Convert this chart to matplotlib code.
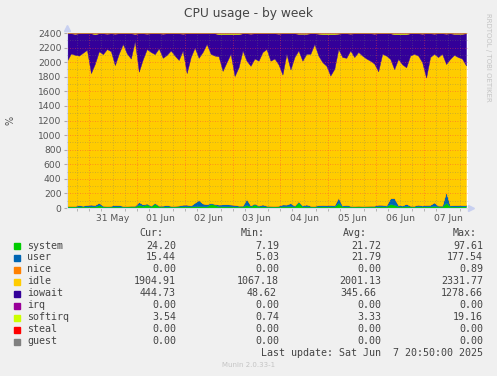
import datetime as dt

import matplotlib
matplotlib.use("Agg")
import matplotlib.pyplot as plt
import matplotlib.dates as mdates
from matplotlib.patches import Rectangle

# samples every 2 hours, from 30 May 13:00 to 07 Jun 21:00
start = dt.datetime(2025, 5, 30, 13, 0)
step_hours = 2

system = [20, 21, 20, 20, 21, 20, 22, 21, 40, 21, 20, 20, 21, 20, 19, 20, 21, 20, 45, 30,
          50, 21, 60, 22, 20, 21, 20, 20, 21, 22, 22, 21, 24, 25, 23, 22, 55, 45, 22, 23,
          22, 22, 21, 20, 21, 40, 21, 50, 21, 22, 20, 20, 20, 21, 22, 22, 24, 21, 80, 21,
          22, 20, 20, 21, 22, 21, 22, 21, 70, 21, 22, 20, 20, 21, 20, 20, 20, 21, 22, 22,
          21, 55, 45, 22, 21, 24, 21, 20, 22, 21, 22, 22, 28, 21, 21, 75, 22, 21, 21, 22, 24]
user = [12, 10, 11, 20, 12, 24, 26, 22, 34, 12, 11, 12, 22, 20, 12, 11, 12, 13, 40, 20,
        14, 12, 13, 12, 14, 20, 12, 12, 14, 25, 26, 14, 50, 85, 40, 32, 14, 13, 26, 28,
        30, 27, 24, 14, 13, 85, 16, 14, 13, 28, 13, 12, 11, 12, 28, 26, 45, 13, 15, 14,
        28, 12, 11, 18, 22, 20, 22, 18, 75, 14, 22, 12, 11, 12, 11, 12, 13, 12, 25, 24,
        14, 80, 95, 20, 14, 35, 12, 12, 25, 14, 22, 22, 50, 14, 13, 150, 16, 20, 21, 20, 15]
nice = [0] * 101
idle = [1988, 2089, 2069, 2050, 2097, 2126, 1802, 1937, 2076, 2077, 2149, 2118, 1917, 2080,
        2219, 2089, 2017, 2257, 1785, 1990, 2116, 2107, 2037, 2156, 2026, 2059, 2128, 2058,
        1995, 2113, 1802, 2035, 2126, 1950, 2077, 2196, 2046, 2032, 2032, 1829, 1948, 2066,
        1765, 1896, 2126, 1895, 1913, 1986, 1986, 2090, 2147, 1988, 2019, 1937, 1780, 2067,
        1831, 2036, 2065, 1985, 2065, 2083, 2219, 2051, 1956, 1909, 1772, 1871, 2035, 2035,
        2016, 2128, 2039, 2107, 2059, 2018, 1987, 1947, 1828, 2069, 2055, 1910, 1765, 2003,
        1935, 1871, 2057, 2083, 2043, 1965, 1746, 2026, 2037, 2035, 2081, 1750, 2007, 2059,
        2028, 2008, 1916]
iowait = [377, 277, 290, 307, 267, 227, 547, 405, 247, 287, 212, 247, 432, 277, 147, 277,
          347, 100, 527, 357, 212, 257, 287, 207, 332, 297, 237, 307, 367, 232, 547, 327,
          197, 337, 257, 147, 282, 307, 305, 505, 385, 270, 575, 455, 237, 377, 442, 347,
          377, 257, 217, 377, 347, 422, 567, 282, 497, 327, 230, 370, 275, 282, 147, 302,
          385, 435, 569, 475, 212, 327, 337, 232, 327, 257, 307, 347, 377, 412, 522, 282,
          307, 352, 480, 340, 415, 455, 307, 282, 307, 392, 607, 327, 277, 327, 282, 417,
          352, 290, 320, 340, 442]
irq = [0] * 101
softirq = [3, 3, 10, 3, 3, 3, 3, 15, 3, 3, 8, 3, 8, 3, 3, 3, 3, 10, 3, 3,
           8, 3, 3, 3, 8, 3, 3, 3, 3, 8, 3, 3, 3, 3, 3, 3, 3, 3, 15, 15,
           15, 15, 15, 15, 3, 3, 8, 3, 3, 3, 3, 3, 3, 8, 3, 3, 3, 3, 10, 10,
           10, 3, 3, 8, 15, 15, 15, 15, 8, 3, 3, 8, 3, 3, 3, 3, 3, 8, 3, 3,
           3, 3, 15, 15, 15, 15, 3, 3, 3, 8, 3, 3, 8, 3, 3, 8, 3, 10, 10, 10, 3]
steal = [0] * 101
guest = [0] * 101

names = ["system", "user", "nice", "idle", "iowait", "irq", "softirq", "steal", "guest"]
colors = ["#00cc00", "#0066b3", "#ff8000", "#ffcc00", "#330099",
          "#990099", "#ccff00", "#ff0000", "#808080"]
cur = ["24.20", "15.44", "0.00", "1904.91", "444.73", "0.00", "3.54", "0.00", "0.00"]
mins = ["7.19", "5.03", "0.00", "1067.18", "48.62", "0.00", "0.74", "0.00", "0.00"]
avgs = ["21.72", "21.79", "0.00", "2001.13", "345.66", "0.00", "3.33", "0.00", "0.00"]
maxs = ["97.61", "177.54", "0.89", "2331.77", "1278.66", "0.00", "19.16", "0.00", "0.00"]

W, H = 497, 376
times = [start + dt.timedelta(hours=step_hours * i) for i in range(len(idle))]
end = times[-1]

fig = plt.figure(figsize=(W / 100, H / 100), dpi=100)
fig.patch.set_facecolor("#f0f0f0")


def fx(x):
    return x / W


def fy(y):
    return 1 - y / H


ax = fig.add_axes([fx(67), fy(208), 401 / W, 175 / H])
ax.set_facecolor("white")
ax.stackplot(times, system, user, nice, idle, iowait, irq, softirq, steal, guest,
             colors=colors, linewidth=0.3, edgecolor="face")
ax.set_ylim(0, 2400)
ax.set_xlim(start, end + dt.timedelta(hours=1))

# grid drawn above the areas like rrdtool does
minor_c = (0.45, 0.45, 0.45, 0.45)
major_c = (1.0, 0.25, 0.25, 0.6)
for v in range(100, 2500, 100):
    ax.axhline(v, color=major_c if v % 200 == 0 else minor_c, lw=0.6,
               ls=(0, (1, 2)), zorder=5)
t = dt.datetime(2025, 5, 30, 18, 0)
while t < end:
    ax.axvline(t, color=major_c if t.hour == 0 else minor_c, lw=0.6,
               ls=(0, (1, 2)), zorder=5)
    t += dt.timedelta(hours=6)

label_days = [dt.datetime(2025, 5, d, 12) for d in [31]] + \
             [dt.datetime(2025, 6, d, 12) for d in range(1, 8)]
ax.set_xticks(label_days)
ax.xaxis.set_major_formatter(mdates.DateFormatter("%d %b"))
ax.xaxis.set_minor_locator(mdates.HourLocator(byhour=[0, 6, 12, 18]))
ax.set_yticks(range(0, 2401, 200))
ax.tick_params(axis="both", which="major", labelsize=6.6, labelcolor="#555555",
               color="#aaaaaa", length=2, pad=2)
ax.tick_params(axis="x", which="major", length=0, pad=4)
ax.tick_params(axis="x", which="minor", length=2, color="#aaaaaa")
for s in ["top", "right"]:
    ax.spines[s].set_visible(False)
for s in ["left", "bottom"]:
    ax.spines[s].set_color("#d8ddf0")
    ax.spines[s].set_linewidth(0.8)
ax.plot([0], [1.03], marker="^", ms=4, color="#c8d0f0", transform=ax.transAxes,
        clip_on=False)
ax.plot([1.008], [0], marker=">", ms=4, color="#c8d0f0", transform=ax.transAxes,
        clip_on=False)

fig.text(fx(248), fy(13), "CPU usage - by week", ha="center", va="center",
         fontsize=8.8, color="#444444")
fig.text(fx(10), fy(120), "%", ha="center", va="center", rotation=90,
         fontsize=7, color="#555555")
fig.text(fx(488), fy(57), "RRDTOOL / TOBI OETIKER", ha="center", va="center",
         rotation=-90, fontsize=5, color="#c4c4c4")

mono = dict(family="DejaVu Sans Mono", fontsize=7.2, color="#444444", va="center")
fig.text(fx(163), fy(233), "Cur:", ha="right", **mono)
fig.text(fx(265), fy(233), "Min:", ha="right", **mono)
fig.text(fx(367), fy(233), "Avg:", ha="right", **mono)
fig.text(fx(477), fy(233), "Max:", ha="right", **mono)
for i, name in enumerate(names):
    y = 245.5 + 12 * i
    fig.add_artist(Rectangle((fx(14), fy(y + 3)), 6 / W, 6 / H,
                             transform=fig.transFigure, color=colors[i]))
    fig.text(fx(27), fy(y), name, ha="left", **mono)
    fig.text(fx(176), fy(y), cur[i], ha="right", **mono)
    fig.text(fx(277 if name == "iowait" else 279), fy(y), mins[i], ha="right", **mono)
    fig.text(fx(376 if name == "iowait" else 381), fy(y), avgs[i], ha="right", **mono)
    fig.text(fx(483), fy(y), maxs[i], ha="right", **mono)
fig.text(fx(483), fy(353.5), "Last update: Sat Jun  7 20:50:00 2025", ha="right", **mono)
fig.text(fx(249), fy(365), "Munin 2.0.33-1", ha="center", va="center",
         fontsize=5, color="#c4c4c4")

fig.savefig("out.png", dpi=100, facecolor=fig.get_facecolor())
